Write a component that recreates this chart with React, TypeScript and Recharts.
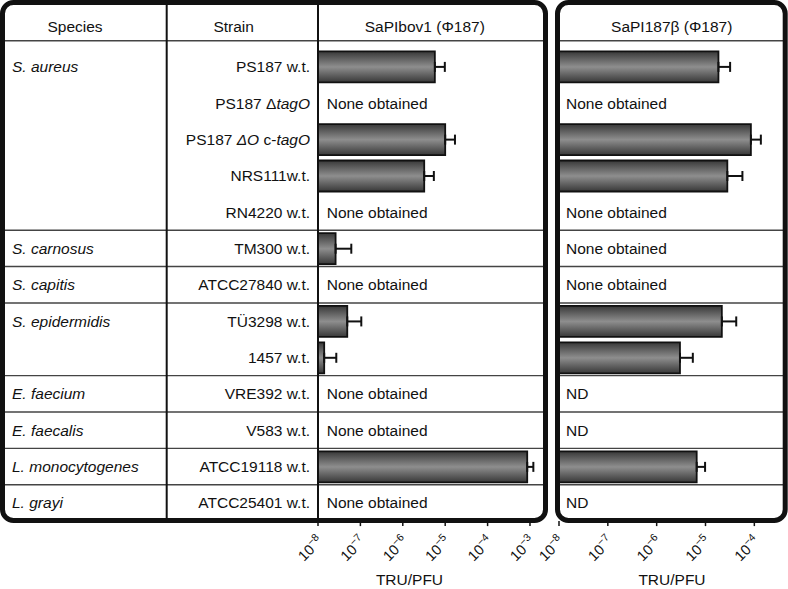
import React from 'react';
import { BarChart, Bar, XAxis, YAxis, ErrorBar } from 'recharts';

// ---------- data ----------
const species = ['S. aureus', '', '', '', '', 'S. carnosus', 'S. capitis', 'S. epidermidis', '', 'E. faecium', 'E. faecalis', 'L. monocytogenes', 'L. grayi'];
const strains = ['PS187 w.t.', 'PS187 ΔtagO', 'PS187 ΔO c-tagO', 'NRS111w.t.', 'RN4220 w.t.', 'TM300 w.t.', 'ATCC27840 w.t.', 'TÜ3298 w.t.', '1457 w.t.', 'VRE392 w.t.', 'V583 w.t.', 'ATCC19118 w.t.', 'ATCC25401 w.t.'];

const bovValues = [5.7e-6, null, 1.0e-5, 3.2e-6, null, 2.6e-8, null, 4.9e-8, 1.4e-8, null, null, 8.6e-4, null];
const bovErrors = [4.1e-6, null, 7.0e-6, 2.2e-6, null, 3.5e-8, null, 5.6e-8, 1.3e-8, null, null, 3.4e-4, null];
const bovNotes = ['', 'None obtained', '', '', 'None obtained', '', 'None obtained', '', '', 'None obtained', 'None obtained', '', 'None obtained'];

const betaValues = [1.84e-5, null, 8.5e-5, 2.8e-5, null, null, null, 2.16e-5, 3.0e-6, null, null, 6.6e-6, null];
const betaErrors = [1.35e-5, null, 5.1e-5, 2.9e-5, null, null, null, 2.1e-5, 2.5e-6, null, null, 3.2e-6, null];
const betaNotes = ['', 'None obtained', '', '', 'None obtained', 'None obtained', 'None obtained', '', '', 'ND', 'ND', '', 'ND'];

const headers = ['Species', 'Strain', 'SaPIbov1 (Φ187)', 'SaPI187β (Φ187)'];
const bovTicks = [1e-8, 1e-7, 1e-6, 1e-5, 1e-4, 1e-3];
const betaTicks = [1e-8, 1e-7, 1e-6, 1e-5, 1e-4];
const axisTitle = 'TRU/PFU';

// ---------- layout ----------
const FONT = '"Liberation Sans", Arial, Helvetica, sans-serif';
const FS = 15.5;
const W = 788;
const H = 589;
const PLOT_TOP = 48.4;
const PLOT_BOTTOM = 521.1;
const AXIS_H = 64;
const ROW_H = (PLOT_BOTTOM - PLOT_TOP) / strains.length;

const C1_W = 540;
const C1_LEFT = 318;
const C1_RIGHT = 545;
const BOV_MAX = Math.pow(10, -2.646);

const C2_X = 530;
const C2_W = W - C2_X;
const C2_LEFT = 559 - C2_X;
const C2_RIGHT = 5;
const BETA_MAX = Math.pow(10, -3.413);

const rows = strains.map((s, i) => ({
  strain: s,
  bov: bovValues[i],
  bovErr: bovErrors[i] == null ? null : [0, bovErrors[i]],
  beta: betaValues[i],
  betaErr: betaErrors[i] == null ? null : [0, betaErrors[i]],
}));

const strainParts = (s: string) =>
  s.split(/(ΔO|tagO)/).map((p, k) =>
    p === '' ? null : (
      <tspan key={k} fontStyle={k % 2 === 1 ? 'italic' : 'normal'}>{p}</tspan>
    )
  );

const textProps = { fontFamily: FONT, fontSize: FS, fill: '#111' };

const LeftTick = (props: any) => {
  const { y, payload } = props;
  const i = strains.indexOf(payload.value);
  return (
    <g>
      {species[i] ? (
        <text x={12} y={y} dy="0.36em" fontStyle="italic" {...textProps}>{species[i]}</text>
      ) : null}
      <text x={310} y={y} dy="0.36em" textAnchor="end" {...textProps}>{strainParts(strains[i])}</text>
      {bovNotes[i] ? (
        <text x={C1_LEFT + 8.7} y={y} dy="0.36em" {...textProps}>{bovNotes[i]}</text>
      ) : null}
    </g>
  );
};

const RightTick = (props: any) => {
  const { y, payload } = props;
  const i = strains.indexOf(payload.value);
  return betaNotes[i] ? (
    <text x={C2_LEFT + 7} y={y} dy="0.36em" {...textProps}>{betaNotes[i]}</text>
  ) : <g />;
};

const DecadeTick = (props: any) => {
  const { x, y, payload } = props;
  const exp = Math.round(Math.log10(payload.value));
  return (
    <g transform={`translate(${x + 6},${y + 14})`}>
      <text transform="rotate(-45)" textAnchor="end" fontFamily={FONT} fontSize={14.5} fill="#111">
        10<tspan dy={-6} fontSize={10.5}>{`−${-exp}`}</tspan>
      </text>
    </g>
  );
};

const barStyle = {
  fill: 'url(#barGrad)',
  stroke: '#111',
  strokeWidth: 1.8,
};

export default function App() {
  const groupStarts = species.map((s, i) => (i > 0 && s ? i : -1)).filter((i) => i > 0);
  return (
    <div style={{ position: 'absolute', left: 0, top: 0, width: W, height: H, background: '#fff', overflow: 'hidden' }}>
      <svg width={0} height={0} style={{ position: 'absolute' }}>
        <defs>
          <linearGradient id="barGrad" x1="0" y1="0" x2="0" y2="1">
            <stop offset="0" stopColor="#383838" />
            <stop offset="0.5" stopColor="#8e8e8e" />
            <stop offset="1" stopColor="#383838" />
          </linearGradient>
        </defs>
      </svg>

      <div style={{ position: 'absolute', left: 0, top: 0 }}>
        <BarChart
          width={C1_W}
          height={H}
          layout="vertical"
          data={rows}
          margin={{ top: PLOT_TOP, right: C1_W - C1_RIGHT, bottom: H - PLOT_BOTTOM - AXIS_H, left: 0 }}
          barSize={31}
          style={{ overflow: 'visible' }}
        >
          <XAxis
            type="number"
            scale="log"
            domain={[1e-8, BOV_MAX]}
            allowDataOverflow
            ticks={bovTicks}
            interval={0}
            tick={<DecadeTick />}
            tickSize={5}
            axisLine={false}
            tickLine={{ stroke: '#111', strokeWidth: 1.5 }}
            height={AXIS_H}
            label={{ value: axisTitle, position: 'insideBottom', offset: 0, dx: -22, fill: '#111', fontSize: FS, fontFamily: FONT }}
          />
          <YAxis
            type="category"
            dataKey="strain"
            width={C1_LEFT}
            interval={0}
            tickLine={false}
            axisLine={false}
            tick={<LeftTick />}
          />
          <Bar dataKey="bov" isAnimationActive={false} {...barStyle}>
            <ErrorBar dataKey="bovErr" direction="x" width={5} stroke="#111" strokeWidth={2} isAnimationActive={false} />
          </Bar>
        </BarChart>
      </div>

      <div style={{ position: 'absolute', left: C2_X, top: 0 }}>
        <BarChart
          width={C2_W}
          height={H}
          layout="vertical"
          data={rows}
          margin={{ top: PLOT_TOP, right: C2_RIGHT, bottom: H - PLOT_BOTTOM - AXIS_H, left: 0 }}
          barSize={31}
        >
          <XAxis
            type="number"
            scale="log"
            domain={[1e-8, BETA_MAX]}
            allowDataOverflow
            ticks={betaTicks}
            interval={0}
            tick={<DecadeTick />}
            tickSize={5}
            axisLine={false}
            tickLine={{ stroke: '#111', strokeWidth: 1.5 }}
            height={AXIS_H}
            label={{ value: axisTitle, position: 'insideBottom', offset: 0, dx: 1, fill: '#111', fontSize: FS, fontFamily: FONT }}
          />
          <YAxis
            type="category"
            dataKey="strain"
            width={C2_LEFT}
            interval={0}
            tickLine={false}
            axisLine={false}
            tick={<RightTick />}
          />
          <Bar dataKey="beta" isAnimationActive={false} {...barStyle}>
            <ErrorBar dataKey="betaErr" direction="x" width={5} stroke="#111" strokeWidth={2} isAnimationActive={false} />
          </Bar>
        </BarChart>
      </div>

      <svg width={W} height={H} style={{ position: 'absolute', left: 0, top: 0, pointerEvents: 'none' }}>
        {/* header separator */}
        <line x1={2.5} x2={545.5} y1={40.7} y2={40.7} stroke="#444" strokeWidth={1.4} />
        <line x1={557.5} x2={785.2} y1={40.7} y2={40.7} stroke="#444" strokeWidth={1.4} />
        {/* group separators */}
        {groupStarts.map((i) => (
          <g key={i}>
            <line x1={2.5} x2={545.5} y1={PLOT_TOP + i * ROW_H} y2={PLOT_TOP + i * ROW_H} stroke="#444" strokeWidth={1.4} />
            <line x1={557.5} x2={785.2} y1={PLOT_TOP + i * ROW_H} y2={PLOT_TOP + i * ROW_H} stroke="#444" strokeWidth={1.4} />
          </g>
        ))}
        {/* column separators */}
        <line x1={166.7} x2={166.7} y1={2.5} y2={520.5} stroke="#111" strokeWidth={2} />
        <line x1={C1_LEFT} x2={C1_LEFT} y1={2.5} y2={520.5} stroke="#111" strokeWidth={2} />
        {/* frames */}
        <rect x={2.5} y={2.5} width={543} height={518} rx={11} ry={11} fill="none" stroke="#111" strokeWidth={5} />
        <rect x={557.5} y={2.5} width={227.7} height={518} rx={11} ry={11} fill="none" stroke="#111" strokeWidth={5} />
        {/* headers */}
        <text x={75} y={32} textAnchor="middle" {...textProps}>{headers[0]}</text>
        <text x={233.7} y={32} textAnchor="middle" {...textProps}>{headers[1]}</text>
        <text x={424.8} y={32} textAnchor="middle" {...textProps}>{headers[2]}</text>
        <text x={671.7} y={32} textAnchor="middle" {...textProps}>{headers[3]}</text>
      </svg>
    </div>
  );
}
